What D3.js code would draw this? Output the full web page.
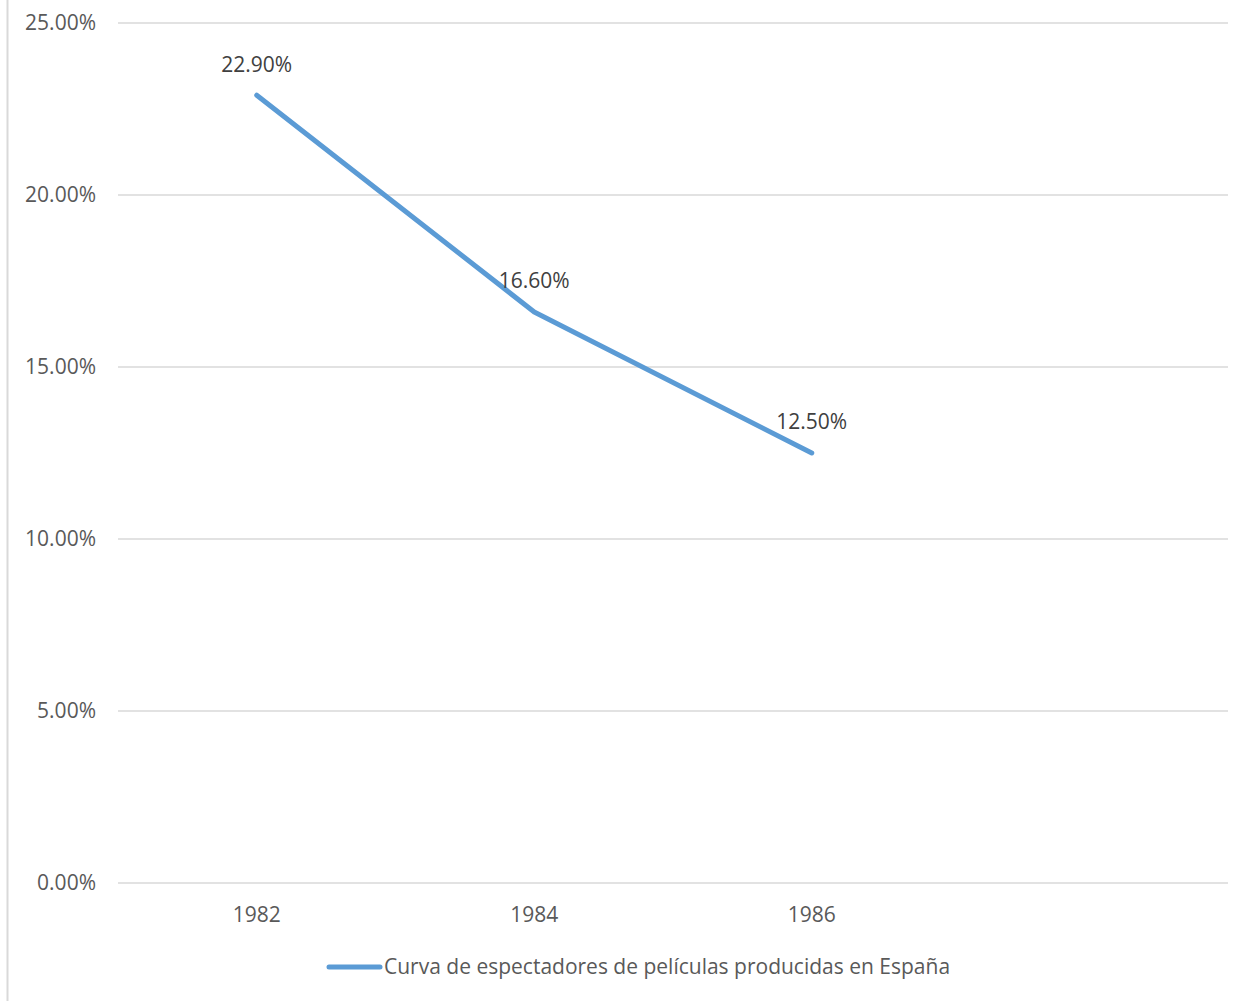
<!DOCTYPE html>
<html>
<head>
<meta charset="utf-8">
<script src="https://cdn.jsdelivr.net/npm/d3@7"></script>
<style>
  body { margin: 0; background: #fff; }
  text { font-family: "Open Sans", "Noto Sans", sans-serif; }
</style>
</head>
<body>
<div id="chart"></div>
<script>
const years = ["1982", "1984", "1986", ""]
const share = [22.9, 16.6, 12.5, null]
const yTicks = [0, 5, 10, 15, 20, 25]
const seriesName = "Curva de espectadores de películas producidas en España"

const width = 1234, height = 1001
const margin = { top: 23, right: 5, bottom: 118, left: 118 }
const fontSize = 21

const svg = d3.select("#chart")
  .append("svg")
  .attr("width", width)
  .attr("height", height)

// chart border on the left edge
svg.append("line")
  .attr("x1", 7.5).attr("x2", 7.5)
  .attr("y1", 0).attr("y2", height)
  .attr("stroke", "#d9d9d9")
  .attr("stroke-width", 2)

const x = d3.scaleBand()
  .domain(years)
  .range([margin.left, width - margin.right - 1])
  .padding(0)

const y = d3.scaleLinear()
  .domain([0, 25])
  .range([height - margin.bottom, margin.top])

// gridlines
svg.append("g")
  .selectAll("line")
  .data(yTicks)
  .join("line")
  .attr("x1", margin.left)
  .attr("x2", width - margin.right - 1)
  .attr("y1", d => y(d))
  .attr("y2", d => y(d))
  .attr("stroke", "#d9d9d9")
  .attr("stroke-width", 1.5)

// y labels
svg.append("g")
  .selectAll("text")
  .data(yTicks)
  .join("text")
  .attr("x", 96)
  .attr("y", d => y(d))
  .attr("dy", "0.35em")
  .attr("text-anchor", "end")
  .attr("font-size", fontSize)
  .attr("fill", "#595959")
  .text(d => d.toFixed(2) + "%")

// x labels
svg.append("g")
  .selectAll("text")
  .data(years.filter(d => d))
  .join("text")
  .attr("x", d => x(d) + x.bandwidth() / 2)
  .attr("y", y(0) + 32)
  .attr("dy", "0.35em")
  .attr("text-anchor", "middle")
  .attr("font-size", fontSize)
  .attr("fill", "#595959")
  .text(d => d)

const points = years.map((d, i) => ({ year: d, v: share[i] })).filter(d => d.v != null)

const line = d3.line()
  .x(d => x(d.year) + x.bandwidth() / 2)
  .y(d => y(d.v))

svg.append("path")
  .datum(points)
  .attr("d", line)
  .attr("fill", "none")
  .attr("stroke", "#5b9bd5")
  .attr("stroke-width", 5)
  .attr("stroke-linejoin", "round")
  .attr("stroke-linecap", "round")

// data labels
svg.append("g")
  .selectAll("text")
  .data(points)
  .join("text")
  .attr("x", d => x(d.year) + x.bandwidth() / 2)
  .attr("y", d => y(d.v) - 31)
  .attr("dy", "0.35em")
  .attr("text-anchor", "middle")
  .attr("font-size", fontSize)
  .attr("fill", "#404040")
  .text(d => d.v.toFixed(2) + "%")

// legend
const lg = svg.append("g")
lg.append("line")
  .attr("x1", 329).attr("x2", 380)
  .attr("y1", 967).attr("y2", 967)
  .attr("stroke", "#5b9bd5")
  .attr("stroke-width", 5)
  .attr("stroke-linecap", "round")
lg.append("text")
  .attr("x", 384)
  .attr("y", 967)
  .attr("dy", "0.35em")
  .attr("font-size", fontSize)
  .attr("fill", "#595959")
  .text(seriesName)
</script>
</body>
</html>
